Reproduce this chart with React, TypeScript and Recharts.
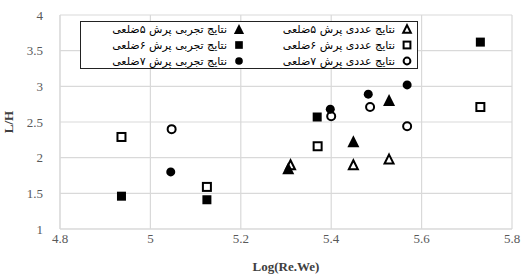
import { ScatterChart, Scatter, XAxis, YAxis, CartesianGrid, Label } from 'recharts';

type Pt = { x: number; y: number };
type Marker = 'triangle' | 'square' | 'circle';

const EXP_5: Pt[] = [
  { x: 5.305, y: 1.85 },
  { x: 5.449, y: 2.23 },
  { x: 5.528, y: 2.81 },
];
const NUM_5: Pt[] = [
  { x: 5.31, y: 1.9 },
  { x: 5.449, y: 1.9 },
  { x: 5.528, y: 1.98 },
];
const EXP_6: Pt[] = [
  { x: 4.936, y: 1.46 },
  { x: 5.125, y: 1.41 },
  { x: 5.369, y: 2.57 },
  { x: 5.73, y: 3.62 },
];
const NUM_6: Pt[] = [
  { x: 4.936, y: 2.29 },
  { x: 5.125, y: 1.59 },
  { x: 5.37, y: 2.16 },
  { x: 5.73, y: 2.71 },
];
const EXP_7: Pt[] = [
  { x: 5.045, y: 1.8 },
  { x: 5.398, y: 2.68 },
  { x: 5.482, y: 2.89 },
  { x: 5.568, y: 3.02 },
];
const NUM_7: Pt[] = [
  { x: 5.047, y: 2.4 },
  { x: 5.4, y: 2.58 },
  { x: 5.486, y: 2.71 },
  { x: 5.568, y: 2.44 },
];

const X_TICKS = [4.8, 5, 5.2, 5.4, 5.6, 5.8];
const Y_TICKS = [1, 1.5, 2, 2.5, 3, 3.5, 4];

const EXP_LABELS = ['نتایج تجربی پرش ۵ضلعی', 'نتایج تجربی پرش ۶ضلعی', 'نتایج تجربی پرش ۷ضلعی'];
const NUM_LABELS = ['نتایج عددی پرش ۵ضلعی', 'نتایج عددی پرش ۶ضلعی', 'نتایج عددی پرش ۷ضلعی'];
const MARKERS: Marker[] = ['triangle', 'square', 'circle'];

const INK = '#000';
const GRID = '#d9d9d9';
const TICK = '#595959';
const SERIF = '"Liberation Serif", "Times New Roman", serif';

function MarkerGlyph({ cx, cy, kind, filled, size = 1 }: { cx: number; cy: number; kind: Marker; filled: boolean; size?: number }) {
  const fill = filled ? INK : '#fff';
  const sw = filled ? 0 : 2;
  if (kind === 'square') {
    const s = (filled ? 9 : 8) * size;
    return <rect x={cx - s / 2} y={cy - s / 2} width={s} height={s} fill={fill} stroke={INK} strokeWidth={sw} />;
  }
  if (kind === 'circle') {
    const r = (filled ? 4.5 : 4) * size;
    return <circle cx={cx} cy={cy} r={r} fill={fill} stroke={INK} strokeWidth={sw} />;
  }
  const h = (filled ? 12 : 9) * size;
  const w = (filled ? 12 : 9) * size;
  const pts = `${cx},${cy - h / 2} ${cx + w / 2},${cy + h / 2} ${cx - w / 2},${cy + h / 2}`;
  return <polygon points={pts} fill={fill} stroke={INK} strokeWidth={sw} />;
}

const shapeFor = (kind: Marker, filled: boolean) => (props: any) => (
  <MarkerGlyph cx={props.cx} cy={props.cy} kind={kind} filled={filled} />
);

const XTick = (props: any) => (
  <text x={props.x} y={props.y + 12} textAnchor="middle" fill={TICK} fontSize={13} fontFamily={SERIF}>
    {props.payload.value}
  </text>
);

const YTick = (props: any) => (
  <text x={props.x - 15} y={props.y + 4.5} textAnchor="end" fill={TICK} fontSize={13} fontFamily={SERIF}>
    {props.payload.value}
  </text>
);

// legend drawn as an overlay so it doesn't eat into the plot area
function LegendBox() {
  const cell = (text: string, kind: Marker, filled: boolean) => (
    <div
      key={text}
      style={{ display: 'flex', direction: 'rtl', alignItems: 'center', height: 16, paddingRight: 4 }}
    >
      <svg width={12} height={12} style={{ marginLeft: 6 }}>
        <MarkerGlyph cx={6} cy={6} kind={kind} filled={filled} size={0.85} />
      </svg>
      <span style={{ fontFamily: '"DejaVu Sans", sans-serif', fontSize: 11, color: '#000', whiteSpace: 'nowrap' }}>
        {text}
      </span>
    </div>
  );
  return (
    <div
      style={{
        position: 'absolute',
        left: 80,
        top: 21,
        width: 338,
        height: 48,
        border: '1.5px solid #222',
        background: '#fff',
        display: 'grid',
        gridTemplateColumns: '1fr 1fr',
        alignContent: 'center',
        boxSizing: 'border-box',
      }}
    >
      {MARKERS.map((m, i) => [cell(EXP_LABELS[i], m, true), cell(NUM_LABELS[i], m, false)])}
    </div>
  );
}

export default function App() {
  return (
    <div style={{ position: 'absolute', left: 0, top: 0, width: 522, height: 276, background: '#fff', fontFamily: SERIF }}>
      <ScatterChart width={522} height={276} margin={{ top: 15, right: 10, bottom: 17, left: 0 }}>
        <CartesianGrid stroke={GRID} strokeWidth={1.2} />
        <XAxis
          type="number"
          dataKey="x"
          domain={[4.8, 5.8]}
          ticks={X_TICKS}
          tickSize={0}
          height={30}
          axisLine={{ stroke: GRID }}
          tick={<XTick />}
        >
          <Label
            value="Log(Re.We)"
            position="insideBottom"
            offset={-12}
            style={{ fill: '#404040', fontSize: 13, fontWeight: 'bold', fontFamily: SERIF }}
          />
        </XAxis>
        <YAxis
          type="number"
          dataKey="y"
          domain={[1, 4]}
          ticks={Y_TICKS}
          width={60}
          tickSize={0}
          axisLine={{ stroke: GRID }}
          tick={<YTick />}
        >
          <Label
            value="L/H"
            angle={-90}
            position="insideLeft"
            offset={8}
            style={{ textAnchor: 'middle', fill: '#404040', fontSize: 13, fontWeight: 'bold', fontFamily: SERIF }}
          />
        </YAxis>
        <Scatter data={NUM_5} shape={shapeFor('triangle', false)} isAnimationActive={false} />
        <Scatter data={NUM_6} shape={shapeFor('square', false)} isAnimationActive={false} />
        <Scatter data={NUM_7} shape={shapeFor('circle', false)} isAnimationActive={false} />
        <Scatter data={EXP_5} shape={shapeFor('triangle', true)} isAnimationActive={false} />
        <Scatter data={EXP_6} shape={shapeFor('square', true)} isAnimationActive={false} />
        <Scatter data={EXP_7} shape={shapeFor('circle', true)} isAnimationActive={false} />
      </ScatterChart>
      <LegendBox />
    </div>
  );
}
